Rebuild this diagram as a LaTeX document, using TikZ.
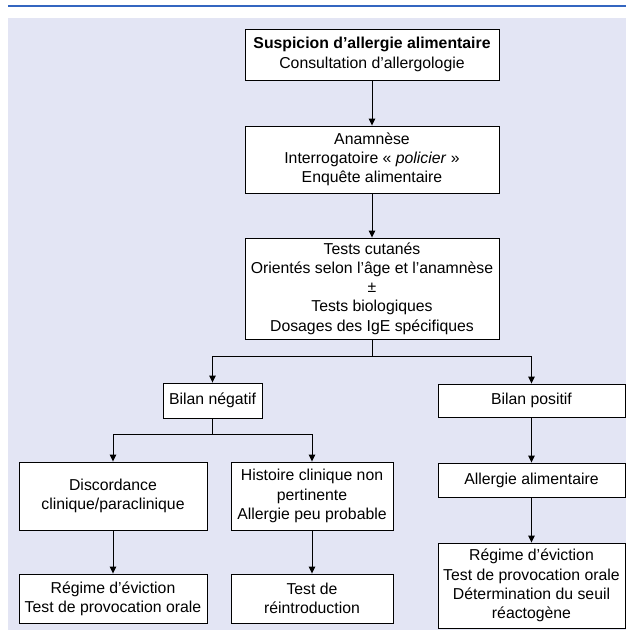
\documentclass[tikz,border=0pt]{standalone}
\usepackage{fontspec}
\setmainfont{Liberation Sans}
\usetikzlibrary{arrows.meta}
\definecolor{bgc}{RGB}{227,229,244}
\definecolor{topline}{RGB}{52,102,192}
\begin{document}
\begin{tikzpicture}[x=1pt,y=-1pt,
  box/.style={draw=black,fill=white,line width=0.9pt,inner sep=0pt,align=center,
    font=\fontsize{15.8}{19.3}\selectfont},
  arr/.style={line width=0.9pt,-{Triangle[length=7pt,width=6.5pt]}},
  ln/.style={line width=0.9pt}]
\useasboundingbox (0,0) rectangle (626,630);
\fill[topline] (8,4.6) rectangle (626,7.4);
\fill[bgc] (8,18) rectangle (626,630);
\node[box,minimum width=254pt,minimum height=51pt] (top) at (372,54.5)
  {\textbf{Suspicion d’allergie alimentaire}\\Consultation d’allergologie};
\node[box,minimum width=254pt,minimum height=67pt] (anam) at (372,159.5)
  {Anamnèse\\Interrogatoire « \textit{policier} »\\Enquête alimentaire};
\node[box,minimum width=254pt,minimum height=101pt] (tests) at (372,288.5)
  {Tests cutanés\\Orientés selon l’âge et l’anamnèse\\±\\Tests biologiques\\Dosages des IgE spécifiques};
\node[box,minimum width=99pt,minimum height=35pt] (neg) at (212.5,400.5) {Bilan négatif};
\node[box,minimum width=187pt,minimum height=33pt] (pos) at (531.5,400.5) {Bilan positif};
\node[box,minimum width=187pt,minimum height=34pt] (alim) at (531.5,480) {Allergie alimentaire};
\node[box,minimum width=188pt,minimum height=68pt] (disc) at (113,496) {Discordance\\clinique/paraclinique};
\node[box,minimum width=162pt,minimum height=68pt] (hist) at (312,496) {Histoire clinique non\\pertinente\\Allergie peu probable};
\node[box,minimum width=188pt,minimum height=49pt] (reg1) at (113,598.5) {Régime d’éviction\\Test de provocation orale};
\node[box,minimum width=162pt,minimum height=49pt] (reint) at (312,598.5) {Test de\\réintroduction};
\node[box,minimum width=187pt,minimum height=85pt] (reg2) at (531.5,585.5) {Régime d’éviction\\Test de provocation orale\\Détermination du seuil\\réactogène};
\coordinate (j1) at (372,356);
\coordinate (j2) at (212.5,434);
\draw[arr] (top) -- (anam);
\draw[arr] (anam) -- (tests);
\draw[ln] (tests.south) -- (j1);
\draw[arr] (j1) -| (neg.north);
\draw[arr] (j1) -| (pos.north);
\draw[arr] (pos) -- (alim);
\draw[arr] (alim) -- (reg2);
\draw[ln] (neg.south) -- (j2);
\draw[arr] (j2) -| (disc.north);
\draw[arr] (j2) -| (hist.north);
\draw[arr] (disc) -- (reg1);
\draw[arr] (hist) -- (reint);
\end{tikzpicture}
\end{document}
